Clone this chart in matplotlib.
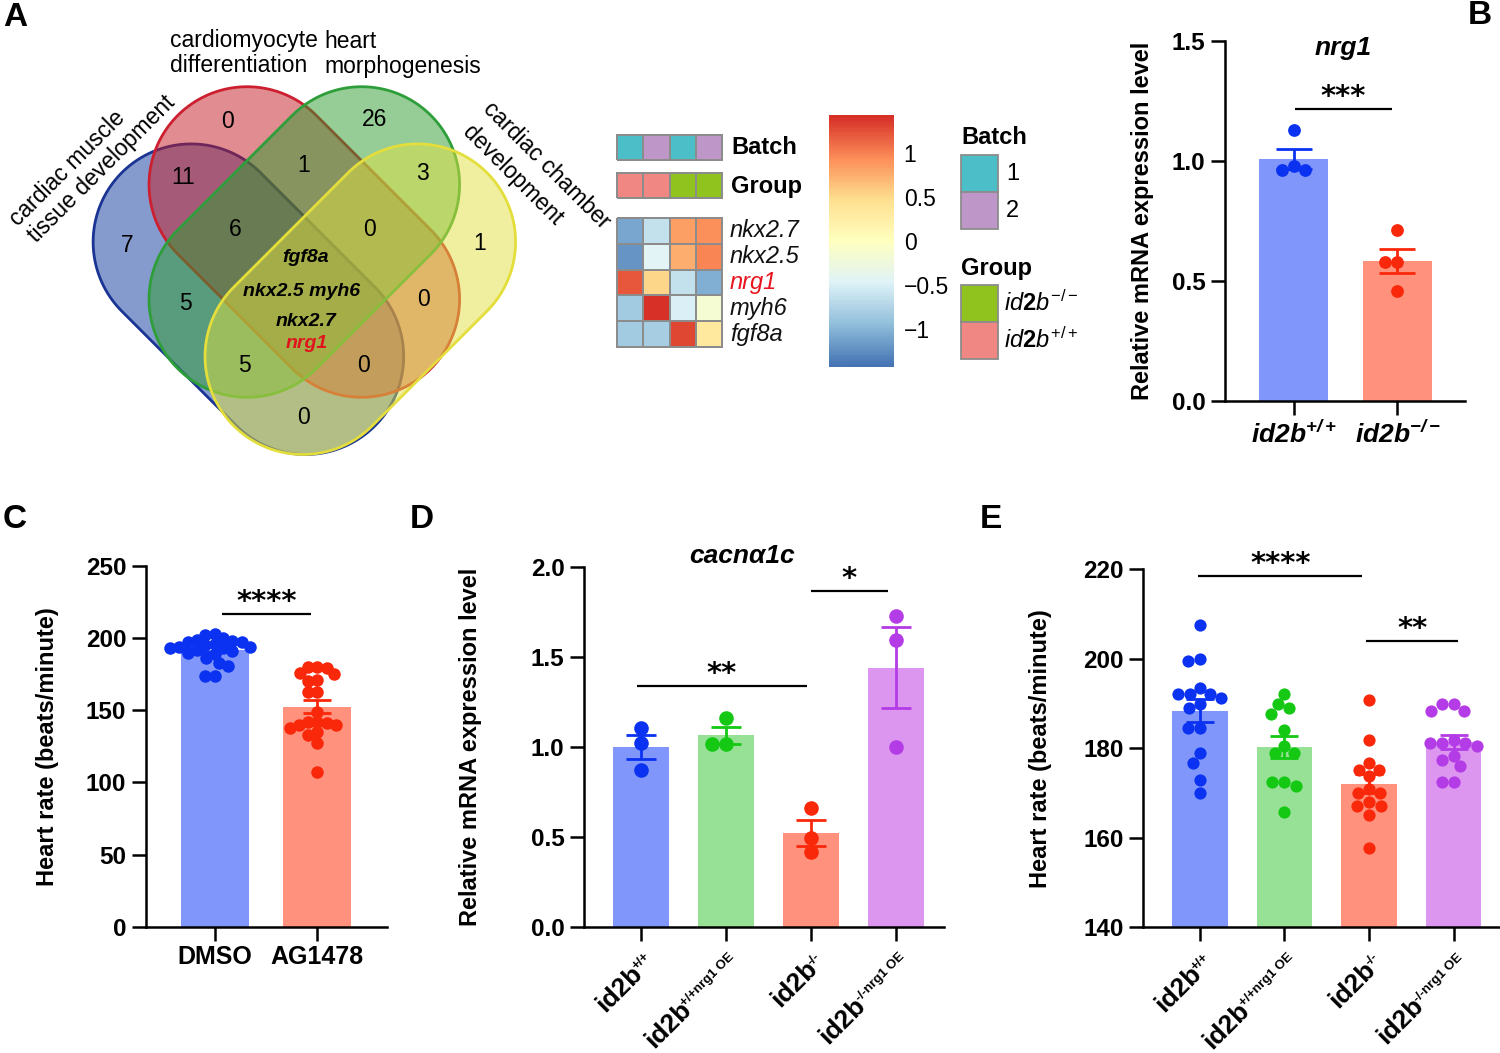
import numpy as np
import matplotlib
matplotlib.use("Agg")
import matplotlib.pyplot as plt
from matplotlib.patches import Polygon, Rectangle
from matplotlib.colors import LinearSegmentedColormap, ListedColormap
from matplotlib.font_manager import FontProperties

plt.rcParams['font.family'] = ['Liberation Sans', 'DejaVu Sans']
plt.rcParams['mathtext.fontset'] = 'custom'
plt.rcParams['mathtext.rm'] = 'Liberation Sans:bold'
plt.rcParams['mathtext.bf'] = 'Liberation Sans:bold'
plt.rcParams['mathtext.it'] = 'Liberation Sans:italic'
plt.rcParams['mathtext.bfit'] = 'Liberation Sans:italic:bold'
plt.rcParams['mathtext.sf'] = 'Liberation Sans'

# ------------------------------------------------------------------ data
venn_sets = ["cardiac muscle", "tissue development", "cardiomyocyte", "differentiation",
             "heart", "morphogenesis", "cardiac chamber", "development"]
venn_regions = ["R", "G", "BR", "RG", "GY", "B", "BRG", "RGY", "Y", "BG", "RY", "BGY", "BRY", "BY"]
venn_counts = [0, 26, 11, 1, 3, 7, 6, 0, 1, 5, 0, 5, 0, 0]
venn_core_genes = ["fgf8a", "nkx2.5 myh6", "nkx2.7", "nrg1"]

hm_genes = ["nkx2.7", "nkx2.5", "nrg1", "myh6", "fgf8a"]
hm_values = [[-1.11, -0.65, 0.85, 0.94],
             [-1.23, -0.46, 0.77, 0.99],
             [1.22, 0.54, -0.65, -1.05],
             [-0.86, 1.43, -0.50, -0.15],
             [-0.86, -0.83, 1.30, 0.32]]
hm_batch = [0, 1, 0, 1]
hm_group = [0, 0, 1, 1]
batch_names = ["1", "2"]
group_names = [r"$\mathit{id2b}^{\mathsf{+/+}}$", r"$\mathit{id2b}^{\mathsf{-/-}}$"]
cbar_ticks = [1, 0.5, 0, -0.5, -1]
cbar_labels = ["1", "0.5", "0", "\u22120.5", "\u22121"]

b_labels = [r"$\mathbfit{id2b}^{\mathbfit{+/+}}$", r"$\mathbfit{id2b}^{\mathbfit{-/-}}$"]
b_wt = [1.13, 0.96, 0.98, 0.96]
b_ko = [0.71, 0.58, 0.58, 0.46]

c_labels = ["DMSO", "AG1478"]
c_dmso = [203, 202, 200, 199, 194, 198, 197, 197, 196, 195, 194, 193, 193, 192, 191,
          190, 189, 186, 183, 181, 174, 174]
c_ag = [180, 180, 179, 176, 175, 171, 170, 163, 163, 149, 142, 140, 142, 140, 141,
        138, 133, 135, 127, 107]

de_base = ["id2b", "id2b", "id2b", "id2b"]
de_sup = ["+/+", "+/+nrg1 OE", "-/-", "-/-nrg1 OE"]
d_wt = [1.105, 1.021, 0.872]
d_wt_oe = [1.158, 1.018, 1.018]
d_ko = [0.658, 0.492, 0.414]
d_ko_oe = [1.724, 1.595, 0.998]

e_wt = [207.4, 199.4, 200.0, 192.0, 191.3, 192.0, 193.5, 192.0, 189.8, 189.0,
        184.6, 184.6, 178.9, 176.7, 173.0, 170.1]
e_wt_oe = [192.0, 189.8, 189.0, 187.6, 184.1, 180.4, 178.9, 178.9, 172.4, 172.4,
           171.6, 165.7]
e_ko = [190.7, 181.9, 176.7, 175.2, 175.2, 173.7, 170.9, 170.1, 170.1, 167.9,
        167.2, 167.2, 165.0, 157.7]
e_ko_oe = [189.8, 189.8, 188.4, 188.4, 181.9, 181.1, 181.1, 181.1, 180.4, 178.3,
           177.4, 176.1, 172.4, 172.4]

# significance annotations (x1, x2, y, text)
b_sig = [(0.01, 0.95, 1.217, "***")]
c_sig = [(0.07, 0.94, 216.7, "****")]
d_sig = [(-0.05, 1.96, 1.339, "**"), (2.0, 2.91, 1.864, "*")]
e_sig = [(-0.02, 1.92, 218.5, "****"), (1.97, 3.05, 203.9, "**")]

# ------------------------------------------------------------------ style
W, H = 1500, 1053
fig = plt.figure(figsize=(15, 10.53), dpi=100)
renderer = fig.canvas.get_renderer()

def px_axes(x0, y0, x1, y1):
    return fig.add_axes([x0 / W, 1 - y1 / H, (x1 - x0) / W, (y1 - y0) / H])

BAR_BLUE, PT_BLUE = "#8096fa", "#0a32f0"
BAR_RED, PT_RED = "#ff917d", "#fa280a"
BAR_GREEN, PT_GREEN = "#96e196", "#14c814"
BAR_PURPLE, PT_PURPLE = "#dc96f0", "#b43ce6"

# ------------------------------------------------------------------ panel A
axA = px_axes(0, 0, 1110, 460)
axA.set_xlim(0, 1110)
axA.set_ylim(460, 0)
axA.axis("off")

def pill(cx, cy, L, r, ang_deg, n=80):
    a = np.deg2rad(ang_deg)
    u = np.array([np.cos(a), np.sin(a)])
    nv = np.array([-np.sin(a), np.cos(a)])
    c = np.array([cx, cy])
    t1 = np.linspace(-np.pi / 2, np.pi / 2, n)
    cap1 = c + L * u + r * (np.outer(np.cos(t1), u) + np.outer(np.sin(t1), nv))
    t2 = np.linspace(np.pi / 2, 3 * np.pi / 2, n)
    cap2 = c - L * u + r * (np.outer(np.cos(t2), u) + np.outer(np.sin(t2), nv))
    return np.vstack([cap1, cap2])

PL, PR = 81, 98
shapes = [  # (center, angle, fill, edge)
    ((248.4, 299.2), 45, (0.06, 0.22, 0.61), "#1a3494"),
    ((304.3, 242.0), 45, (0.77, 0.10, 0.14), "#cc2030"),
    ((304.3, 242.0), -45, (0.18, 0.61, 0.18), "#2e9e3a"),
    ((360.3, 299.2), -45, (0.88, 0.88, 0.25), "#e4de3c"),
]
for (cx, cy), ang, fc, ec in shapes:
    axA.add_patch(Polygon(pill(cx, cy, PL, PR, ang), closed=True,
                          facecolor=fc + (0.5,), edgecolor=ec, lw=2.0))

region_pos = {"R": (228, 122), "G": (375, 120), "BR": (183, 178), "RG": (304, 165),
              "GY": (422, 174), "B": (127, 245), "BRG": (235, 229), "RGY": (370, 230),
              "Y": (480, 243), "BG": (185, 303), "RY": (424, 300), "BGY": (244, 365),
              "BRY": (363, 365), "BY": (304, 418)}
for reg, cnt in zip(venn_regions, venn_counts):
    x, y = region_pos[reg]
    axA.text(x, y, str(cnt), fontsize=16.5, ha="center", va="center")

gene_pos = [(306, 258), (302, 292), (306, 321), (307, 343)]
for g, (x, y) in zip(venn_core_genes, gene_pos):
    axA.text(x, y, g, fontsize=14, fontweight="bold", fontstyle="italic",
             color="#e0141e" if g == "nrg1" else "black", ha="center", va="center")

# set labels
axA.text(18, 227, venn_sets[0], rotation=45, rotation_mode="anchor", ha="left",
         va="baseline", fontsize=16.5)
axA.text(36, 243, venn_sets[1], rotation=45, rotation_mode="anchor", ha="left",
         va="baseline", fontsize=16.5)
axA.text(170, 40, venn_sets[2], ha="left", va="center", fontsize=16.5)
axA.text(170, 66, venn_sets[3], ha="left", va="center", fontsize=16.5)
axA.text(324, 41, venn_sets[4], ha="left", va="center", fontsize=16.5)
axA.text(324, 67, venn_sets[5], ha="left", va="center", fontsize=16.5)
axA.text(482, 110, venn_sets[6], rotation=-45, rotation_mode="anchor", ha="left",
         va="baseline", fontsize=16.5)
axA.text(462, 133, venn_sets[7], rotation=-45, rotation_mode="anchor", ha="left",
         va="baseline", fontsize=16.5)

# heatmap
pal = ["#4575B4", "#91BFDB", "#E0F3F8", "#FFFFBF", "#FEE090", "#FC8D59", "#D73027"]
hcmap = LinearSegmentedColormap.from_list("pheat", pal, N=100)
VMAX = 1.44
CELL_EDGE = "#8c8c8c"

axH = px_axes(617, 217.7, 722, 347.3)
axH.pcolormesh(np.array(hm_values), cmap=hcmap, vmin=-VMAX, vmax=VMAX,
               edgecolors=CELL_EDGE, linewidth=1.3, clip_on=False)
axH.set_xlim(0, 4)
axH.set_ylim(len(hm_genes), 0)
axH.axis("off")

batch_cols = ["#4bbec8", "#be96c8"]
group_cols = ["#f08782", "#91c31e"]
axBa = px_axes(617, 135, 722, 160)
axBa.pcolormesh(np.array([hm_batch]), cmap=ListedColormap(batch_cols), vmin=-0.5, vmax=1.5,
                edgecolors=CELL_EDGE, linewidth=1.3, clip_on=False)
axBa.axis("off")
axGr = px_axes(617, 172.7, 722, 198.3)
axGr.pcolormesh(np.array([hm_group]), cmap=ListedColormap(group_cols), vmin=-0.5, vmax=1.5,
                edgecolors=CELL_EDGE, linewidth=1.3, clip_on=False)
axGr.axis("off")

axA.text(731, 148, "Batch", fontsize=17, fontweight="bold", ha="left", va="center")
axA.text(731, 187, "Group", fontsize=17, fontweight="bold", ha="left", va="center")
for i, g in enumerate(hm_genes):
    axA.text(730, 217.7 + 25.92 * (i + 0.5), g, fontsize=17, fontstyle="italic",
             color="#e8141e" if g == "nrg1" else "#111111", ha="left", va="center")

# colorbar
axCB = px_axes(829, 115, 894, 367)
axCB.imshow(np.linspace(-VMAX, VMAX, 256)[:, None], cmap=hcmap, vmin=-VMAX, vmax=VMAX,
            extent=[0, 1, -VMAX, VMAX], origin="lower", aspect="auto")
axCB.set_xticks([])
axCB.yaxis.tick_right()
axCB.set_yticks(cbar_ticks)
axCB.set_yticklabels(cbar_labels, fontsize=16.5)
axCB.tick_params(axis="y", length=0, pad=7)
for s in axCB.spines.values():
    s.set_visible(False)

# annotation legend
axA.text(961, 138, "Batch", fontsize=17, fontweight="bold", ha="left", va="center")
for i, (name, col) in enumerate(zip(batch_names, batch_cols)):
    y0 = 155 + i * 37
    axA.add_patch(Rectangle((961, y0), 37, 37, facecolor=col, edgecolor=CELL_EDGE, lw=1.3))
    axA.text(1006, y0 + 19, name, fontsize=17, ha="left", va="center")
axA.text(961, 268, "Group", fontsize=17, fontweight="bold", ha="left", va="center")
for i, idx in enumerate([1, 0]):
    y0 = 285 + i * 37.2
    axA.add_patch(Rectangle((961, y0), 37, 37.2, facecolor=group_cols[idx],
                            edgecolor=CELL_EDGE, lw=1.3))
    axA.text(1004, y0 + 18, group_names[idx], fontsize=17, ha="left", va="center")

# ------------------------------------------------------------------ bar panels
def style_axes(ax, ylim, yticks, yticklabels, nbars, xlim):
    ax.set_xlim(*xlim)
    ax.set_ylim(*ylim)
    for s in ["top", "right"]:
        ax.spines[s].set_visible(False)
    for s in ["left", "bottom"]:
        ax.spines[s].set_linewidth(1.8)
    ax.set_yticks(yticks)
    ax.set_yticklabels(yticklabels, fontsize=17.5, fontweight="bold")
    ax.set_xticks(np.arange(nbars))
    ax.tick_params(axis="both", direction="out", length=10, width=1.8)
    ax.tick_params(axis="y", pad=4)

def swarm_offsets(ax, xc, vals, d):
    pts = ax.transData.transform(np.column_stack([np.full(len(vals), xc), vals]))
    ys = pts[:, 1]
    px_list, py_list = [], []
    offs = np.zeros(len(vals))
    for i in np.argsort(-np.asarray(vals), kind="stable"):
        y = ys[i]
        cands = [0.0]
        for px_, py_ in zip(px_list, py_list):
            dy = abs(py_ - y)
            if dy < d:
                dx = np.sqrt(d * d - dy * dy)
                cands += [px_ + dx, px_ - dx]
        cands = sorted(cands, key=lambda c: (abs(c), c))
        chosen = cands[-1]
        for c in cands:
            if all((c - px_) ** 2 + (y - py_) ** 2 >= d * d * 0.998
                   for px_, py_ in zip(px_list, py_list)):
                chosen = c
                break
        px_list.append(chosen)
        py_list.append(y)
        offs[i] = chosen
    sx = ax.transData.transform((1, 0))[0] - ax.transData.transform((0, 0))[0]
    return offs / sx

def draw_bars(ax, groups, bar_cols, pt_cols, msize, capsize, dsep):
    x = np.arange(len(groups))
    means = [np.mean(v) for v in groups]
    sems = [np.std(v, ddof=1) / np.sqrt(len(v)) for v in groups]
    ax.bar(x, means, width=0.66, color=bar_cols, zorder=1)
    for i, v in enumerate(groups):
        ax.errorbar(x[i], means[i], yerr=sems[i], color=pt_cols[i], capsize=capsize,
                    elinewidth=2.0, capthick=2.0, zorder=2)
        offs = swarm_offsets(ax, x[i], v, dsep)
        ax.plot(x[i] + offs, v, "o", ms=msize, color=pt_cols[i], mec="none", zorder=3,
                clip_on=False)

def draw_sig(ax, sigs, fs=20):
    for x1, x2, y, t in sigs:
        ax.plot([x1, x2], [y, y], color="black", lw=1.6, solid_capstyle="butt", clip_on=False)
        ax.annotate(t, xy=((x1 + x2) / 2, y), xytext=(0, 3), textcoords="offset points",
                    ha="center", va="baseline", fontsize=fs, fontweight="bold",
                    family=["DejaVu Sans"])

def text_width(s, size):
    fp = FontProperties(family="Liberation Sans", size=size, weight="bold")
    w, h, d = renderer.get_text_width_height_descent(s, fp, ismath=False)
    return w

def rot_labels(ax, bases, sups, fs_base=19, fs_sup=9.5, raise_px=8, drop_px=30, dx_px=9):
    ang = np.deg2rad(45)
    u = np.array([np.cos(ang), np.sin(ang)])
    nrm = np.array([-np.sin(ang), np.cos(ang)])
    ax.set_xticklabels([])
    y_axis = ax.transAxes.transform((0, 0))[1]
    for i, (b, s) in enumerate(zip(bases, sups)):
        xt = ax.transData.transform((i, 0))[0]
        A = np.array([xt + dx_px, y_axis - drop_px])
        ws = text_width(s, fs_sup)
        start = A - u * ws
        base_end = start - nrm * raise_px + u * 2.0
        fig.text(A[0] / W, A[1] / H, s, rotation=45, rotation_mode="anchor", ha="right",
                 va="baseline", fontsize=fs_sup, fontweight="bold")
        fig.text(base_end[0] / W, base_end[1] / H, b, rotation=45, rotation_mode="anchor",
                 ha="right", va="baseline", fontsize=fs_base, fontweight="bold")

# B
axB = px_axes(1225, 40.7, 1465, 401)
style_axes(axB, (0, 1.5), [0, 0.5, 1.0, 1.5], ["0.0", "0.5", "1.0", "1.5"], 2, (-0.66, 1.65))
draw_bars(axB, [b_wt, b_ko], [BAR_BLUE, BAR_RED], [PT_BLUE, PT_RED], 9.2, 13, 12.5)
axB.set_xticklabels(b_labels, fontsize=19)
axB.tick_params(axis="x", pad=4)
axB.set_ylabel("Relative mRNA expression level", fontsize=17, fontweight="bold", va="center")
axB.yaxis.set_label_coords((1142 - 1225) / 240, 0.5)
axB.text(0.48, 1.47, "nrg1", fontsize=19, fontweight="bold", fontstyle="italic",
         ha="center", va="center")
draw_sig(axB, b_sig, fs=21)

# C
axC = px_axes(145.7, 566, 386.7, 926.7)
style_axes(axC, (0, 250), [0, 50, 100, 150, 200, 250], ["0", "50", "100", "150", "200", "250"],
           2, (-0.673, 1.678))
draw_bars(axC, [c_dmso, c_ag], [BAR_BLUE, BAR_RED], [PT_BLUE, PT_RED], 9.0, 10, 9.5)
axC.set_xticklabels(c_labels, fontsize=18, fontweight="bold")
axC.tick_params(axis="x", pad=3)
axC.set_ylabel("Heart rate (beats/minute)", fontsize=17, fontweight="bold", va="center")
axC.yaxis.set_label_coords((48 - 145.7) / 241, 0.5)
draw_sig(axC, c_sig, fs=21)

# D
axD = px_axes(584, 566.6, 944, 927)
style_axes(axD, (0, 2.0), [0, 0.5, 1.0, 1.5, 2.0], ["0.0", "0.5", "1.0", "1.5", "2.0"],
           4, (-0.672, 3.57))
draw_bars(axD, [d_wt, d_wt_oe, d_ko, d_ko_oe], [BAR_BLUE, BAR_GREEN, BAR_RED, BAR_PURPLE],
          [PT_BLUE, PT_GREEN, PT_RED, PT_PURPLE], 10.5, 11, 14)
rot_labels(axD, de_base, de_sup)
axD.set_ylabel("Relative mRNA expression level", fontsize=17, fontweight="bold", va="center")
axD.yaxis.set_label_coords((471 - 584) / 360, 0.5)
axD.text(1.19, 2.06, "cacn\u03b11c", fontsize=19, fontweight="bold", fontstyle="italic",
         ha="center", va="center")
draw_sig(axD, d_sig, fs=21)

# E
axE = px_axes(1143, 569, 1500, 927.4)
style_axes(axE, (140, 220), [140, 160, 180, 200, 220], ["140", "160", "180", "200", "220"],
           4, (-0.674, 3.55))
draw_bars(axE, [e_wt, e_wt_oe, e_ko, e_ko_oe], [BAR_BLUE, BAR_GREEN, BAR_RED, BAR_PURPLE],
          [PT_BLUE, PT_GREEN, PT_RED, PT_PURPLE], 8.8, 10, 12)
rot_labels(axE, de_base, de_sup)
axE.set_ylabel("Heart rate (beats/minute)", fontsize=17, fontweight="bold", va="center")
axE.yaxis.set_label_coords((1041 - 1143) / 357, 0.5)
draw_sig(axE, e_sig, fs=21)

# panel letters
for letter, (x, y) in {"A": (15, 17), "B": (1480, 16), "C": (15, 520),
                       "D": (422, 520), "E": (991, 520)}.items():
    fig.text(x / W, 1 - y / H, letter, fontsize=24, fontweight="bold", ha="center", va="center")

fig.savefig("out.png", dpi=100)
